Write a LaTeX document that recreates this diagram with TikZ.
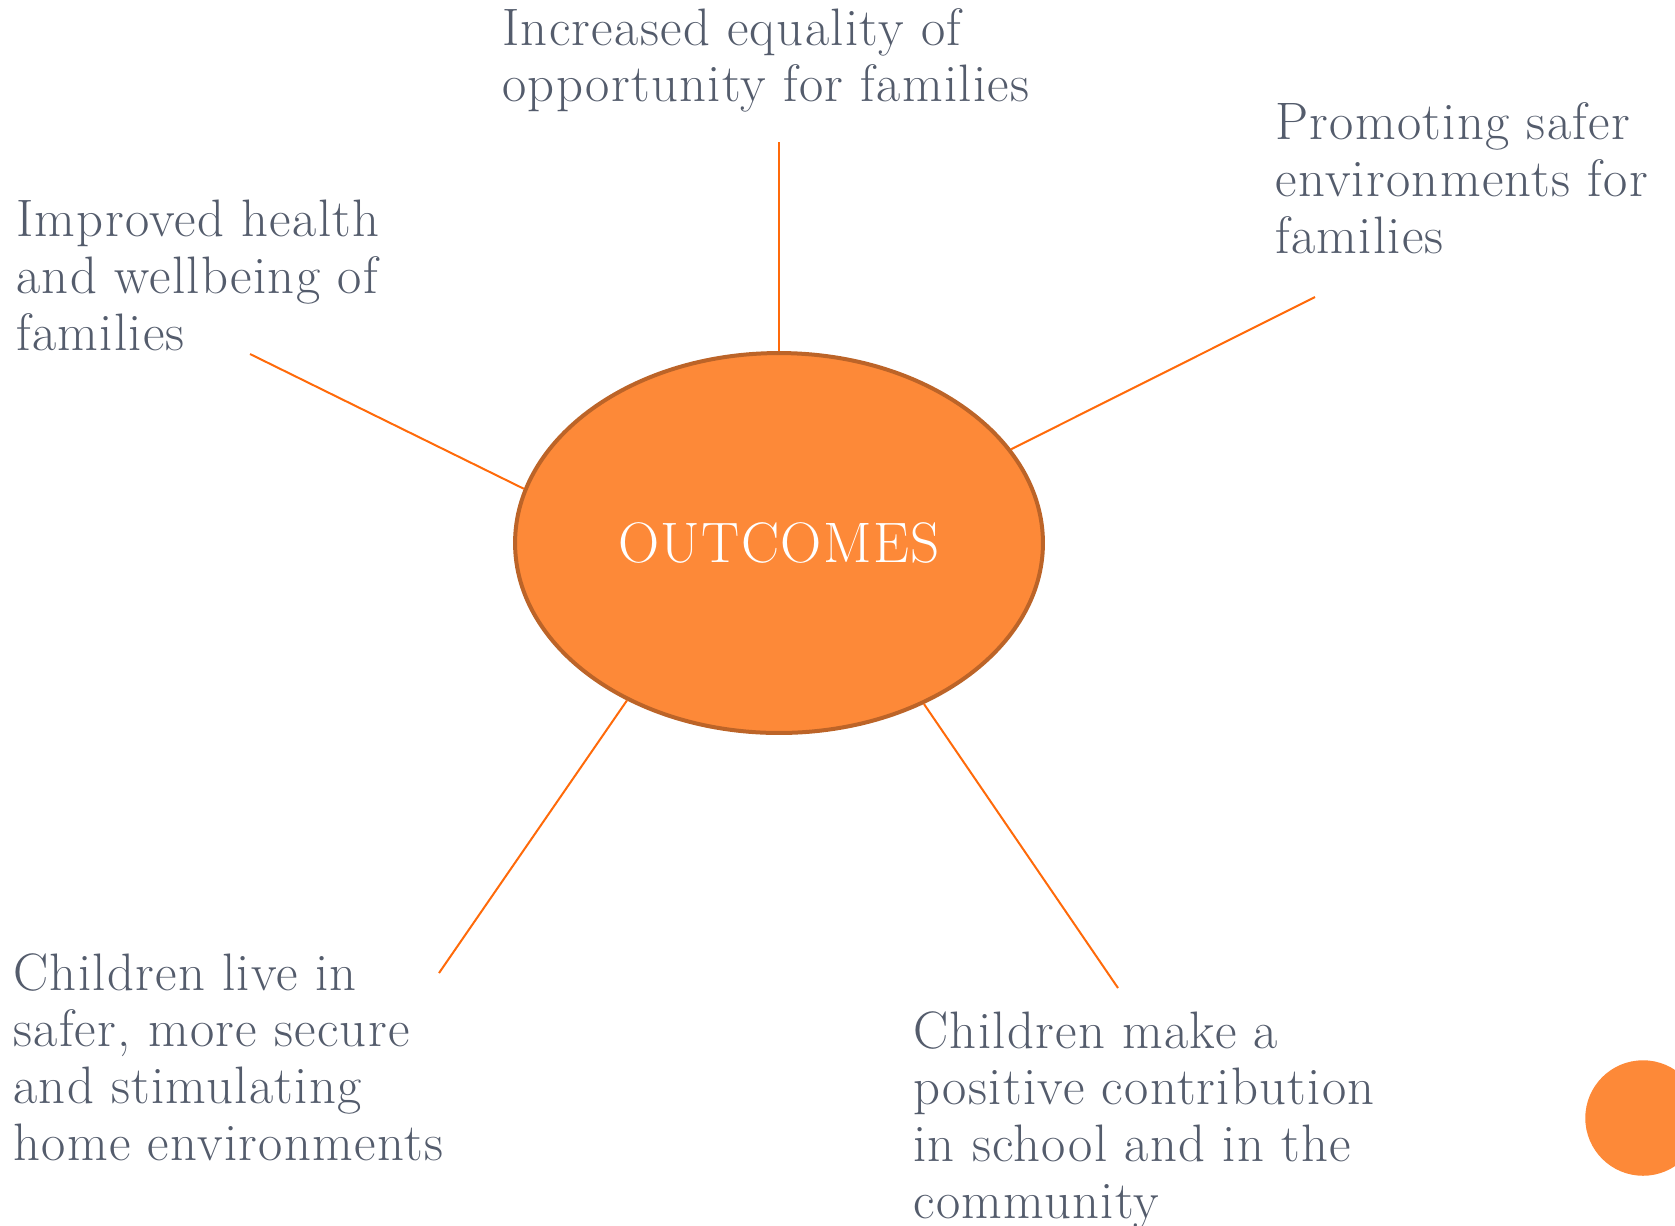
\documentclass[tikz,border=0pt]{standalone}
\usepackage{fontspec}
\newfontfamily\reffont{Latin Modern Roman}[LetterSpace=2.5]
\usetikzlibrary{shapes.geometric}
\definecolor{txtgray}{RGB}{84,92,108}
\definecolor{ellfill}{RGB}{253,137,56}
\definecolor{ellstroke}{RGB}{188,100,40}
\definecolor{linkorange}{RGB}{255,106,10}
\begin{document}
\begin{tikzpicture}[x=0.02cm,y=-0.02cm,
  outtext/.style={font=\reffont\fontsize{30}{32.2}\selectfont, text=txtgray, align=left, inner sep=0pt, anchor=base west},
  hub/.style={ellipse, draw=ellstroke, line width=0.08cm, fill=ellfill, minimum width=10.56cm, minimum height=7.6cm, inner sep=0pt, text=white, font=\reffont\fontsize{32.5}{34}\selectfont},
  link/.style={draw=linkorange, line width=0.04cm},
  dot/.style={circle, fill=ellfill, minimum size=2.31cm, inner sep=0pt}]
\useasboundingbox (0,0) rectangle (1675,1225);
\node[hub] (o) at (779,543) {OUTCOMES};
\node[outtext] (t1) at (502,101.6) {Increased equality of\\opportunity for families};
\node[outtext] (t2) at (1275,253) {Promoting safer\\environments for\\families};
\node[outtext] (t3) at (16,350) {Improved health\\and wellbeing of\\families};
\node[outtext] (t4) at (13,1160) {Children live in\\safer, more secure\\and stimulating\\home environments};
\node[outtext] (t5) at (913,1218) {Children make a\\positive contribution\\in school and in the\\community};
\coordinate (e1) at (779,142);
\coordinate (e2) at (1315,297);
\coordinate (e3) at (250,354);
\coordinate (e4) at (439,973);
\coordinate (e5) at (1118,988);
\draw[link] (o.90) -- (e1);
\draw[link] (o.22) -- (e2);
\draw[link] (o.168.3) -- (e3);
\draw[link] (o.226.5) -- (e4);
\draw[link] (o.312) -- (e5);
\node[dot] (d) at (1643,1118) {};
\end{tikzpicture}
\end{document}
